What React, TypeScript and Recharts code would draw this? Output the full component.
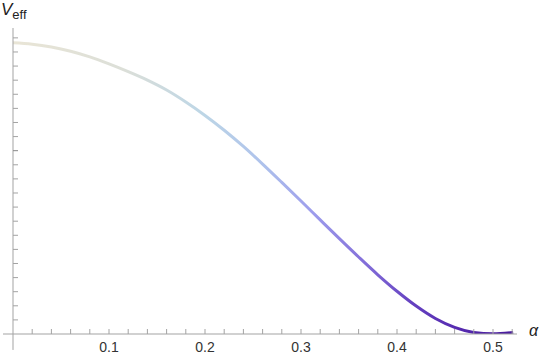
import React from 'react';
import { LineChart, Line, XAxis, YAxis, ReferenceLine } from 'recharts';

const alphaValues = [0, 0.02, 0.04, 0.06, 0.08, 0.1, 0.12, 0.14, 0.16, 0.18, 0.2, 0.22, 0.24, 0.26, 0.28, 0.3, 0.32, 0.34, 0.36, 0.38, 0.4, 0.42, 0.44, 0.46, 0.48, 0.5, 0.521];
const vEffValues = [20.65, 20.55, 20.35, 20.05, 19.65, 19.15, 18.6, 18.0, 17.3, 16.45, 15.5, 14.45, 13.3, 12.05, 10.75, 9.43, 8.09, 6.76, 5.46, 4.2, 3.03, 1.98, 1.1, 0.47, 0.11, 0.01, 0.11];

const xTicks = [0.02, 0.04, 0.06, 0.08, 0.1, 0.12, 0.14, 0.16, 0.18, 0.2, 0.22, 0.24, 0.26, 0.28, 0.3, 0.32, 0.34, 0.36, 0.38, 0.4, 0.42, 0.44, 0.46, 0.48, 0.5, 0.52];
const xTickLabels = ['0.1', '0.2', '0.3', '0.4', '0.5'];
const yTicks = [1, 2, 3, 4, 5, 6, 7, 8, 9, 10, 11, 12, 13, 14, 15, 16, 17, 18, 19, 20, 21];

const data = alphaValues.map((a, i) => ({ a, v: vEffValues[i] }));

const AXIS = '#a3a3a3';
const FONT = '"Liberation Sans", Arial, sans-serif';

const XTick = (props: any) => {
  const { x, y, payload } = props;
  const label = payload.value.toFixed(1);
  const isMajor = xTickLabels.includes(label) && Math.abs(payload.value * 10 - Math.round(payload.value * 10)) < 1e-6;
  return (
    <g>
      <line x1={x} y1={y} x2={x} y2={y - 5} stroke={AXIS} strokeWidth={1} />
      {isMajor && (
        <text x={x} y={y + 18} textAnchor="middle" fontSize={14} fontFamily={FONT} fill="#333">
          {label}
        </text>
      )}
    </g>
  );
};

const YTick = (props: any) => {
  const { x, y, payload } = props;
  const major = payload.value === 13;
  return <line x1={x} y1={y} x2={x + 5} y2={y} stroke={major ? '#888' : AXIS} strokeWidth={1} />;
};

export default function App() {
  return (
    <div style={{ position: 'absolute', left: 0, top: 0, width: 545, height: 357, background: '#fff' }}>
      <LineChart width={545} height={357} data={data} margin={{ top: 28, right: 28, bottom: 0, left: 0 }}>
        <defs>
          <linearGradient id="curveGrad" x1="0" y1="0" x2="1" y2="0">
            <stop offset="0%" stopColor="#e9e5d6" />
            <stop offset="22%" stopColor="#dcdfd8" />
            <stop offset="38%" stopColor="#bdd6e6" />
            <stop offset="50%" stopColor="#aec2ec" />
            <stop offset="60%" stopColor="#9d9cec" />
            <stop offset="70%" stopColor="#8470da" />
            <stop offset="80%" stopColor="#6440c0" />
            <stop offset="90%" stopColor="#5428ad" />
            <stop offset="100%" stopColor="#4a1c9c" />
          </linearGradient>
        </defs>
        <XAxis
          type="number"
          dataKey="a"
          domain={[0, 0.525]}
          ticks={xTicks}
          interval={0}
          height={23}
          tickSize={0}
          tickMargin={0}
          tickLine={false}
          axisLine={{ stroke: AXIS, strokeWidth: 1 }}
          tick={<XTick />}
          allowDataOverflow
        />
        <YAxis
          type="number"
          domain={[0, 21.7]}
          ticks={yTicks}
          interval={0}
          width={13}
          tickSize={0}
          tickMargin={0}
          tickLine={false}
          axisLine={{ stroke: AXIS, strokeWidth: 1 }}
          tick={<YTick />}
          allowDataOverflow
        />
        <ReferenceLine segment={[{ x: 0, y: 0 }, { x: 0, y: -1.13 }]} stroke={AXIS} strokeWidth={1} ifOverflow="visible" />
        <ReferenceLine segment={[{ x: -0.0104, y: 0 }, { x: 0, y: 0 }]} stroke={AXIS} strokeWidth={1} ifOverflow="visible" />
        <Line type="monotone" dataKey="v" stroke="url(#curveGrad)" strokeWidth={3} dot={false} isAnimationActive={false} />
      </LineChart>
      <div style={{ position: 'absolute', left: 1, top: 0, fontFamily: FONT, color: '#222', whiteSpace: 'nowrap', lineHeight: '20px' }}>
        <span style={{ fontStyle: 'italic', fontSize: 17 }}>V</span>
        <span style={{ fontSize: 13, position: 'relative', top: 4 }}>eff</span>
      </div>
      <div style={{ position: 'absolute', left: 529, top: 322, fontFamily: FONT, fontStyle: 'italic', fontSize: 16, color: '#222' }}>α</div>
    </div>
  );
}
